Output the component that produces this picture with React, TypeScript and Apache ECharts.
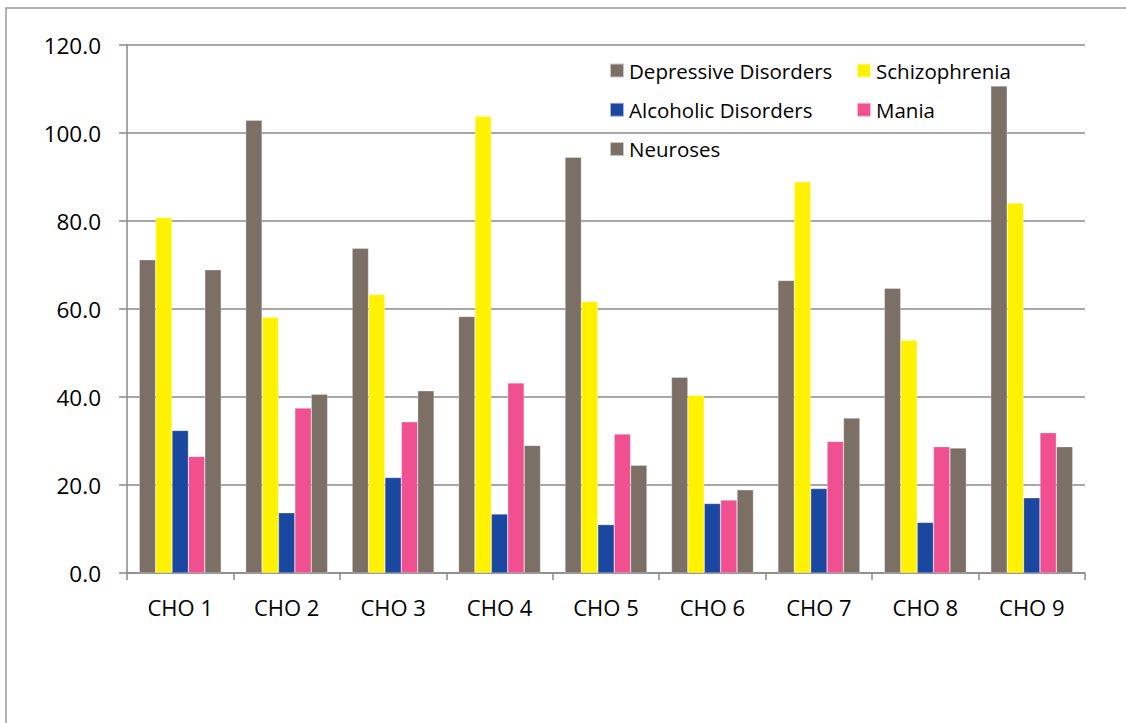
import React, { useEffect, useRef } from "react";
import * as echarts from "echarts";

const categories = ["CHO 1", "CHO 2", "CHO 3", "CHO 4", "CHO 5", "CHO 6", "CHO 7", "CHO 8", "CHO 9"];
const depressive = [71.2, 102.9, 73.8, 58.3, 94.5, 44.5, 66.5, 64.7, 110.7];
const schizophrenia = [80.8, 58.1, 63.3, 103.8, 61.7, 40.4, 88.9, 52.9, 84.1];
const alcoholic = [32.4, 13.7, 21.7, 13.4, 11.0, 15.8, 19.2, 11.5, 17.1];
const mania = [26.5, 37.5, 34.4, 43.2, 31.6, 16.6, 29.9, 28.7, 31.9];
const neuroses = [68.9, 40.6, 41.4, 29.0, 24.5, 18.9, 35.2, 28.4, 28.7];

const seriesNames = ["Depressive Disorders", "Schizophrenia", "Alcoholic Disorders", "Mania", "Neuroses"];
const seriesData = [depressive, schizophrenia, alcoholic, mania, neuroses];
const seriesColors = ["#7b6f66", "#fff200", "#1a48a0", "#f0508f", "#7b6f66"];

const FONT = "'Open Sans', sans-serif";

export default function App() {
  const ref = useRef<HTMLDivElement>(null);
  useEffect(() => {
    if (!ref.current) return;
    const chart = echarts.init(ref.current, undefined, { renderer: "svg" });
    const legendText = { fontFamily: FONT, fontSize: 20.5, color: "#000", lineHeight: 20 };
    chart.setOption({
      animation: false,
      backgroundColor: "#fff",
      graphic: [
        {
          type: "rect",
          shape: { x: 6, y: 8, width: 1300, height: 900 },
          style: { fill: "none", stroke: "#9a9a9a", lineWidth: 1.5 },
          silent: true,
          z: -1,
        },
      ],
      grid: { left: 127, right: 41, top: 45, bottom: 150, containLabel: false },
      legend: [
        {
          data: ["Depressive Disorders", "Alcoholic Disorders", "Neuroses"],
          orient: "vertical",
          left: 609,
          top: 60,
          itemWidth: 14,
          itemHeight: 14,
          itemGap: 18.3,
          icon: "rect",
          textStyle: legendText,
          padding: 0,
        },
        {
          data: ["Schizophrenia", "Mania"],
          orient: "vertical",
          left: 856,
          top: 60,
          itemWidth: 14,
          itemHeight: 14,
          itemGap: 18.3,
          icon: "rect",
          textStyle: legendText,
          padding: 0,
        },
      ],
      xAxis: {
        type: "category",
        data: categories,
        axisLine: { show: true, lineStyle: { color: "#8a8a8a", width: 1.5 } },
        axisTick: { show: true, length: 7, lineStyle: { color: "#8a8a8a", width: 1.5 } },
        axisLabel: { fontFamily: FONT, fontSize: 22, color: "#000", margin: 23 },
        splitLine: { show: false },
      },
      yAxis: {
        type: "value",
        min: 0,
        max: 120,
        interval: 20,
        axisLine: { show: true, lineStyle: { color: "#8a8a8a", width: 1.5 } },
        axisTick: { show: true, length: 8, lineStyle: { color: "#8a8a8a", width: 1.5 } },
        axisLabel: {
          fontFamily: FONT,
          fontSize: 22.5,
          color: "#000",
          margin: 26,
          formatter: (v: number) => v.toFixed(1),
        },
        splitLine: { show: true, lineStyle: { color: "#8a8a8a", width: 1.5 } },
      },
      series: seriesNames.map((name, i) => ({
        name,
        type: "bar",
        data: seriesData[i],
        barGap: "0%",
        barCategoryGap: "23%",
        itemStyle: { color: seriesColors[i], borderColor: "rgba(255,255,255,0.6)", borderWidth: 0.5 },
      })),
    });
    return () => chart.dispose();
  }, []);
  return (
    <div
      ref={ref}
      style={{ position: "fixed", left: 0, top: 0, width: 1126, height: 723, background: "#fff" }}
    />
  );
}
